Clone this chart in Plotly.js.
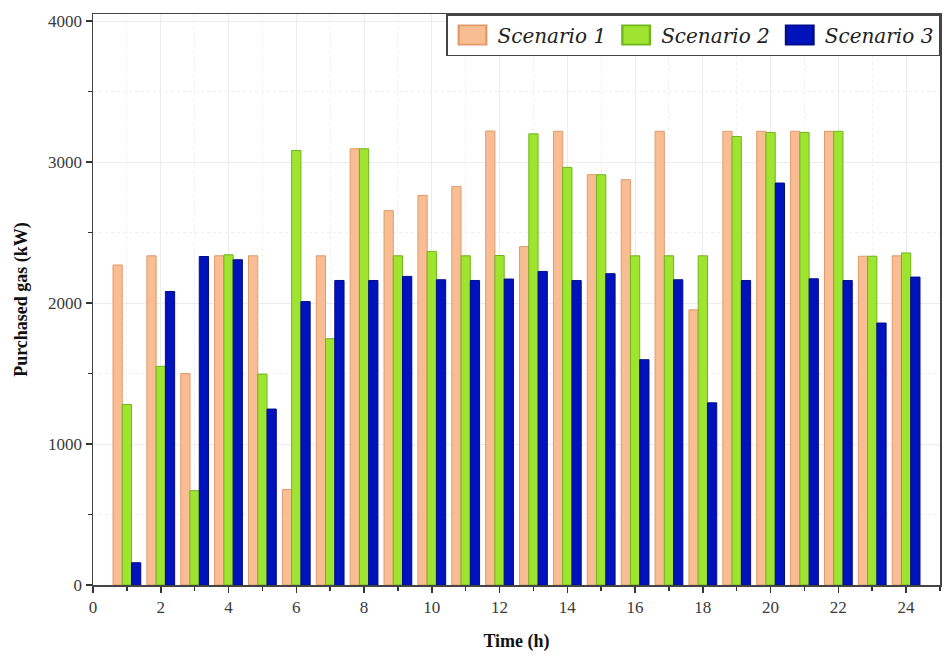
<!DOCTYPE html>
<html>
<head>
<meta charset="utf-8">
<script src="https://cdn.plot.ly/plotly-3.0.1.min.js"></script>
<style>
  html, body { margin: 0; padding: 0; background: #fff; }
  #chart { width: 952px; height: 669px; }
</style>
</head>
<body>
<div id="chart"></div>
<script>
const hours = [1, 2, 3, 4, 5, 6, 7, 8, 9, 10, 11, 12, 13, 14, 15, 16, 17, 18, 19, 20, 21, 22, 23, 24]

const scenario1 = [2270, 2335, 1500, 2335, 2335, 678, 2335, 3094, 2655, 2763, 2827, 3220,
                   2400, 3218, 2910, 2875, 3218, 1952, 3218, 3218, 3218, 3218, 2332, 2335]
const scenario2 = [1280, 1551, 669, 2342, 1496, 3082, 1747, 3094, 2335, 2366, 2335, 2337,
                   3200, 2962, 2910, 2335, 2335, 2335, 3181, 3210, 3210, 3218, 2332, 2355]
const scenario3 = [158, 2082, 2330, 2307, 1248, 2010, 2160, 2160, 2189, 2165, 2160, 2170,
                   2224, 2160, 2208, 1598, 2165, 1292, 2160, 2851, 2172, 2160, 1858, 2184]

const seriesNames = ['Scenario 1', 'Scenario 2', 'Scenario 3']
const fillColors = ['#f8bd92', '#9fe52f', '#0012bb']
const edgeColors = ['#e39a6a', '#6fb51e', '#000c8c']

const serif = 'Liberation Serif, Times New Roman, serif'
const legendSerif = 'DejaVu Serif, serif'

const traces = [scenario1, scenario2, scenario3].map((vals, i) => ({
    x: hours,
    y: vals,
    type: 'bar',
    name: `<i>${seriesNames[i]}</i>`,
    marker: { color: fillColors[i], line: { color: edgeColors[i], width: 1 } },
    hoverinfo: 'x+y'
}))

const layout = {
    width: 952,
    height: 669,
    paper_bgcolor: '#fff',
    plot_bgcolor: '#fff',
    margin: { l: 93, r: 12, t: 14, b: 84 },
    barmode: 'group',
    bargap: 0.18,
    bargroupgap: 0,
    font: { family: serif, color: '#333' },
    xaxis: {
        range: [0, 25],
        tick0: 0,
        dtick: 2,
        ticks: 'outside',
        ticklen: 6,
        tickwidth: 1.5,
        tickcolor: '#333',
        tickfont: { family: serif, size: 17, color: '#3a3a3a' },
        showline: true,
        linecolor: '#444',
        linewidth: 1.5,
        mirror: true,
        showgrid: true,
        gridcolor: '#ececec',
        gridwidth: 1,
        zeroline: false,
        minor: { dtick: 1, ticks: 'outside', ticklen: 4, tickcolor: '#333', showgrid: true, gridcolor: '#efefef', griddash: 'dot' },
        title: { text: '<b>Time (h)</b>', font: { family: serif, size: 18, color: '#111' }, standoff: 18 }
    },
    yaxis: {
        range: [0, 4050],
        tick0: 0,
        dtick: 1000,
        ticks: 'outside',
        ticklen: 6,
        tickwidth: 1.5,
        tickcolor: '#333',
        tickfont: { family: serif, size: 17, color: '#3a3a3a' },
        showline: true,
        linecolor: '#444',
        linewidth: 1.5,
        mirror: true,
        showgrid: true,
        gridcolor: '#ececec',
        zeroline: false,
        minor: { dtick: 500, ticks: 'outside', ticklen: 4, tickcolor: '#333', showgrid: true, gridcolor: '#efefef', griddash: 'dot' },
        title: { text: '<b>Purchased gas (kW)</b>', font: { family: serif, size: 18, color: '#111' }, standoff: 16 }
    },
    legend: {
        orientation: 'h',
        x: 1,
        xanchor: 'right',
        y: 1,
        yanchor: 'top',
        bgcolor: '#fff',
        bordercolor: '#444',
        borderwidth: 1.5,
        font: { family: legendSerif, size: 20, color: '#222' },
        itemwidth: 40,
        traceorder: 'normal'
    },
    showlegend: true
}

const config = { displayModeBar: false, staticPlot: true }

Plotly.newPlot('chart', traces, layout, config).then(gd => {
    // make legend swatches wider blocks like the original, keeping their position
    gd.querySelectorAll('.legend .legendpoints path').forEach(p => {
        const t = p.getAttribute('transform') || ''
        p.setAttribute('transform', `${t} scale(2.3,1.6)`)
    })
})
</script>
</body>
</html>
